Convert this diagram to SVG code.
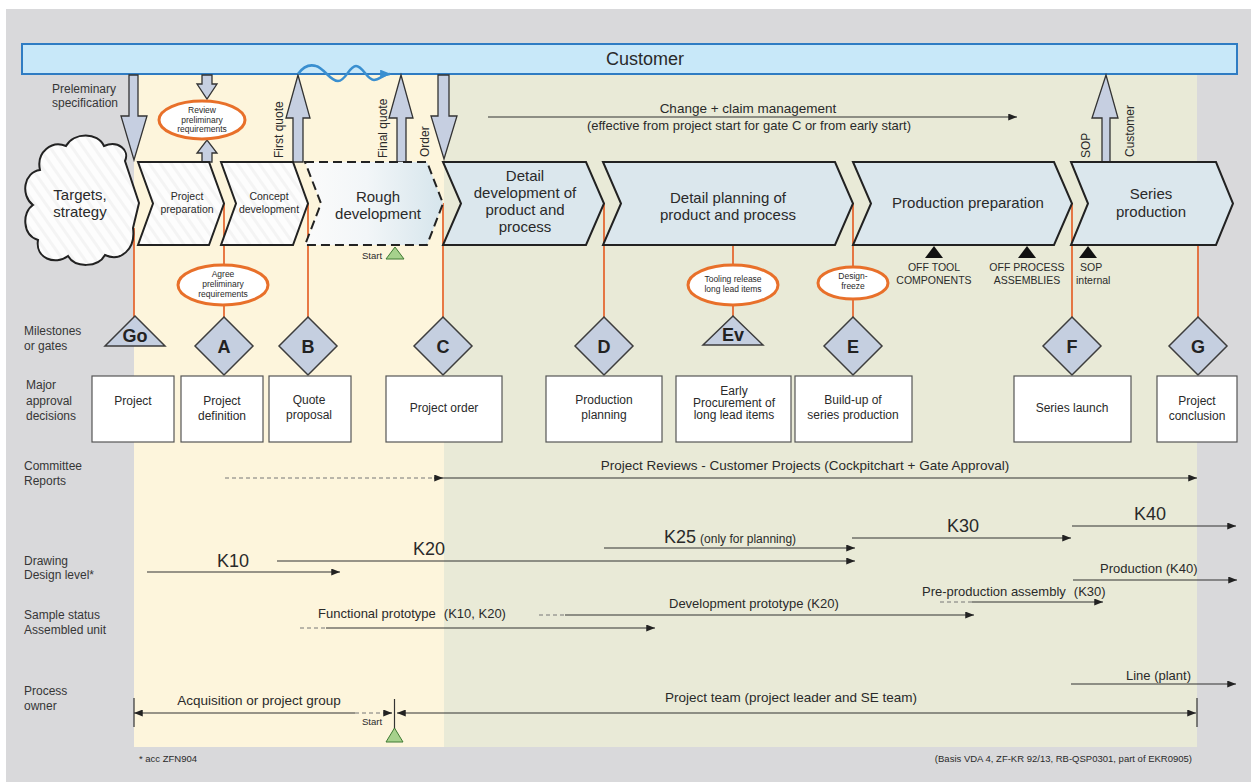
<svg xmlns="http://www.w3.org/2000/svg" width="1251" height="782" viewBox="0 0 1251 782">
  <defs>
    <style>
      .t{font-family:"Liberation Sans",Arial,sans-serif;fill:#2a2a2a}
      .lbl{font-size:12px;fill:#363636}
      .ph{font-size:15px;text-anchor:middle}
      .phs{font-size:10.5px;text-anchor:middle}
      .chev{stroke:#222;stroke-width:2;stroke-linejoin:miter}
      .box{fill:#fff;stroke:#555;stroke-width:1.2}
      .bt{font-size:12px;text-anchor:middle}
      .gate{fill:#c5cfe0;stroke:#3d3d3d;stroke-width:1.5}
      .gl{font-size:18px;font-weight:bold;text-anchor:middle;fill:#222}
      .red{stroke:#e4622a;stroke-width:1.7;fill:none}
      .oval{fill:#fff;stroke:#e8702a;stroke-width:3}
      .ot{font-size:8.5px;text-anchor:middle}
      .blk{fill:#c6cfe1;stroke:#333;stroke-width:1.3;stroke-linejoin:miter}
      .ln{stroke:#333;stroke-width:1.2;fill:none}
      .dsh{stroke:#777;stroke-width:1;stroke-dasharray:4 3;fill:none}
      .mk{fill:#111}
      .k{font-size:18px;text-anchor:middle}
      .m13{font-size:13px}
      .sm{font-size:10.5px}
      .ft{font-size:9.5px}
    </style>
    <pattern id="hatch" width="9" height="9" patternUnits="userSpaceOnUse" patternTransform="rotate(-35)">
      <rect width="9" height="9" fill="#fdfdfd"/>
      <rect width="3" height="9" fill="#f4f4f4"/>
    </pattern>
    <linearGradient id="rough" x1="0" y1="0" x2="1" y2="0">
      <stop offset="0" stop-color="#fbfbfb"/>
      <stop offset="0.45" stop-color="#f2f6f8"/>
      <stop offset="1" stop-color="#d6e5ec"/>
    </linearGradient>
    <marker id="ah" viewBox="0 0 10 8" refX="10" refY="4" markerWidth="9" markerHeight="7" markerUnits="userSpaceOnUse" orient="auto-start-reverse">
      <path d="M0,0 L10,4 L0,8 Z" fill="#222"/>
    </marker>
    <marker id="ahb" viewBox="0 0 10 8" refX="9" refY="4" markerWidth="11" markerHeight="9" markerUnits="userSpaceOnUse" orient="auto">
      <path d="M0,0 L10,4 L0,8 Z" fill="#3a8fd0"/>
    </marker>
  </defs>

  <!-- background panels -->
  <rect x="6" y="9" width="1245" height="773" fill="#d9d9db"/>
  <rect x="134" y="74" width="310" height="673" fill="#fdf5dc"/>
  <rect x="444" y="74" width="753" height="673" fill="#e9ead7"/>

  <!-- row labels -->
  <g id="row-labels" class="t lbl">
    <text x="52" y="93">Preleminary</text>
    <text x="52" y="107">specification</text>
    <text x="24" y="335">Milestones</text>
    <text x="24" y="350">or gates</text>
    <text x="26" y="389">Major</text>
    <text x="26" y="405">approval</text>
    <text x="26" y="420">decisions</text>
    <text x="24" y="470">Committee</text>
    <text x="24" y="485">Reports</text>
    <text x="24" y="565">Drawing</text>
    <text x="24" y="579">Design level*</text>
    <text x="24" y="619">Sample status</text>
    <text x="24" y="634">Assembled unit</text>
    <text x="24" y="695">Process</text>
    <text x="24" y="710">owner</text>
  </g>

  <!-- customer bar -->
  <g id="customer">
    <rect x="22" y="44" width="1215" height="30" fill="#c8e8f9" stroke="#2f7cc3" stroke-width="2"/>
    <text class="t" x="645" y="65" font-size="18" text-anchor="middle">Customer</text>
  </g>

  <!-- gate lines, interface arrows and timelines -->
  <g id="connectors">
    <line class="red" x1="134" y1="228" x2="134" y2="317"/>
    <line class="red" x1="224" y1="203" x2="224" y2="317"/>
    <line class="red" x1="308" y1="203" x2="308" y2="317"/>
    <line class="red" x1="443" y1="203" x2="443" y2="317"/>
    <line class="red" x1="604" y1="203" x2="604" y2="317"/>
    <line class="red" x1="733" y1="245" x2="733" y2="317"/>
    <line class="red" x1="853" y1="203" x2="853" y2="317"/>
    <line class="red" x1="1072" y1="203" x2="1072" y2="317"/>
    <line class="red" x1="1198" y1="245" x2="1198" y2="317"/>

    <!-- customer interface arrows -->
    <path class="blk" d="M129,75 H138 V116 H147 L134,160 L121,116 H129 Z"/>
    <path class="blk" d="M202,75 H212 V84 H217 L207,99 L197,84 H202 Z"/>
    <path class="blk" d="M202,162 H212 V153 H217 L207,140 L197,153 H202 Z"/>
    <path class="blk" d="M293,162 H303 V118 H310 L298,75 L286,118 H293 Z"/>
    <path class="blk" d="M397,162 H406 V118 H413 L401,75 L389,118 H397 Z"/>
    <path class="blk" d="M438,75 H449 V116 H457 L444,159 L431,116 H438 Z"/>
    <path class="blk" d="M1102,162 H1110 V118 H1118 L1106,75 L1092,118 H1102 Z"/>
    <path d="M298,74 C303,67 309,64 316,66 C324,68 330,81 338,81 C346,81 349,66 356,66 C363,66 367,80 374,80 C380,80 383,74 390,74" fill="none" stroke="#3a8fd0" stroke-width="2.5" marker-end="url(#ahb)"/>

    <!-- change management -->
    <line class="ln" x1="488" y1="117" x2="1017" y2="117" marker-end="url(#ah)"/>

    <!-- committee reports -->
    <line class="dsh" x1="225" y1="478" x2="436" y2="478" stroke="#444"/>
    <line class="ln" x1="434" y1="478" x2="443" y2="478" marker-end="url(#ah)"/>
    <line class="ln" x1="443" y1="478" x2="1197" y2="478" marker-end="url(#ah)"/>

    <!-- drawing / design level -->
    <line class="ln" x1="147" y1="572" x2="340" y2="572" marker-end="url(#ah)"/>
    <line class="ln" x1="277" y1="561" x2="855" y2="561" marker-end="url(#ah)"/>
    <line class="ln" x1="604" y1="548" x2="855" y2="548" marker-end="url(#ah)"/>
    <line class="ln" x1="852" y1="538" x2="1071" y2="538" marker-end="url(#ah)"/>
    <line class="ln" x1="1072" y1="526" x2="1236" y2="526" marker-end="url(#ah)"/>

    <!-- sample status -->
    <line class="dsh" x1="300" y1="628" x2="326" y2="628"/>
    <line class="ln" x1="326" y1="628" x2="655" y2="628" marker-end="url(#ah)"/>
    <line class="dsh" x1="539" y1="615" x2="565" y2="615"/>
    <line class="ln" x1="565" y1="615" x2="974" y2="615" marker-end="url(#ah)"/>
    <line class="dsh" x1="940" y1="602" x2="972" y2="602"/>
    <line class="ln" x1="972" y1="602" x2="1103" y2="602" marker-end="url(#ah)"/>
    <line class="ln" x1="1073" y1="580" x2="1237" y2="580" marker-end="url(#ah)"/>

    <!-- process owner -->
    <line class="ln" x1="134" y1="698" x2="134" y2="727"/>
    <line class="ln" x1="134" y1="713" x2="355" y2="713" marker-start="url(#ah)"/>
    <line class="dsh" x1="355" y1="713" x2="386" y2="713" stroke="#444"/>
    <line class="ln" x1="384" y1="713" x2="392" y2="713" marker-end="url(#ah)"/>
    <line class="ln" x1="394.5" y1="699" x2="394.5" y2="731"/>
    <line class="ln" x1="397" y1="713" x2="1196" y2="713" marker-start="url(#ah)" marker-end="url(#ah)"/>
    <line class="ln" x1="1197" y1="698" x2="1197" y2="727"/>
    <line class="ln" x1="1071" y1="684" x2="1236" y2="684" marker-end="url(#ah)"/>
  </g>

  <!-- phases -->
  <g id="targets">
    <path d="M125,161 L139,203 L133,228 C136,250 120,262 105,255 C98,268 75,268 68,256 C55,266 35,258 38,240 C22,235 22,212 33,205 C20,195 24,172 40,170 C36,152 52,140 66,146 C74,132 98,132 104,146 C118,140 130,150 125,161 Z" fill="url(#hatch)" stroke="#222" stroke-width="2"/>
    <text class="t ph" x="80" y="200">Targets,</text>
    <text class="t ph" x="80" y="217">strategy</text>
  </g>
  <g id="phase-project-preparation">
    <path class="chev" d="M138,162 H209 L224,203.5 L209,245 H138 L153,203.5 Z" fill="url(#hatch)"/>
    <text class="t phs" x="187" y="200">Project</text>
    <text class="t phs" x="187" y="213">preparation</text>
  </g>
  <g id="phase-concept-development">
    <path class="chev" d="M221,162 H293 L308,203.5 L293,245 H221 L236,203.5 Z" fill="url(#hatch)"/>
    <text class="t phs" x="269" y="200">Concept</text>
    <text class="t phs" x="269" y="213">development</text>
  </g>
  <g id="phase-rough-development">
    <path class="chev" d="M305,162 H427 L443,203.5 L427,245 H305 L321,203.5 Z" fill="url(#rough)" stroke-dasharray="9 5"/>
    <text class="t ph" x="378" y="202">Rough</text>
    <text class="t ph" x="378" y="219">development</text>
  </g>
  <g id="phase-detail-development">
    <path class="chev" d="M443,162 H586 L604,203.5 L586,245 H443 L461,203.5 Z" fill="#dbe7ed"/>
    <text class="t ph" x="525" y="181">Detail</text>
    <text class="t ph" x="525" y="198">development of</text>
    <text class="t ph" x="525" y="215">product and</text>
    <text class="t ph" x="525" y="232">process</text>
  </g>
  <g id="phase-detail-planning">
    <path class="chev" d="M603,162 H835 L853,203.5 L835,245 H603 L621,203.5 Z" fill="#dbe7ed"/>
    <text class="t ph" x="728" y="203">Detail planning of</text>
    <text class="t ph" x="728" y="220">product and process</text>
  </g>
  <g id="phase-production-preparation">
    <path class="chev" d="M853,162 H1054 L1072,203.5 L1054,245 H853 L871,203.5 Z" fill="#dbe7ed"/>
    <text class="t ph" x="968" y="208">Production preparation</text>
  </g>
  <g id="phase-series-production">
    <path class="chev" d="M1071,162 H1216 L1233,203.5 L1216,245 H1071 L1088,203.5 Z" fill="#dbe7ed"/>
    <text class="t ph" x="1151" y="199">Series</text>
    <text class="t ph" x="1151" y="217">production</text>
  </g>

  <!-- vertical interface labels -->
  <g id="interface-labels" class="t" font-size="12">
    <text transform="translate(283,158) rotate(-90)">First quote</text>
    <text transform="translate(387,158) rotate(-90)">Final quote</text>
    <text transform="translate(429,157) rotate(-90)">Order</text>
    <text transform="translate(1090,158) rotate(-90)">SOP</text>
    <text transform="translate(1134,157) rotate(-90)">Customer</text>
  </g>

  <g id="change-management" class="t">
    <text x="748" y="113" font-size="13.5" text-anchor="middle">Change + claim management</text>
    <text x="749" y="130" font-size="13" text-anchor="middle">(effective from project start for gate C or from early start)</text>
  </g>

  <!-- review activities -->
  <g id="review-preliminary">
    <ellipse class="oval" cx="202" cy="120" rx="43" ry="19"/>
    <text class="t ot" x="202" y="113">Review</text>
    <text class="t ot" x="202" y="123">preliminary</text>
    <text class="t ot" x="202" y="132">requirements</text>
  </g>
  <g id="agree-preliminary">
    <ellipse class="oval" cx="223" cy="285" rx="45" ry="20"/>
    <text class="t ot" x="223" y="277">Agree</text>
    <text class="t ot" x="223" y="287">preliminary</text>
    <text class="t ot" x="223" y="297">requirements</text>
  </g>
  <g id="tooling-release">
    <ellipse class="oval" cx="733" cy="285" rx="45" ry="20"/>
    <text class="t ot" x="733" y="282" font-size="9">Tooling release</text>
    <text class="t ot" x="733" y="292" font-size="9">long lead items</text>
  </g>
  <g id="design-freeze">
    <ellipse class="oval" cx="853" cy="283" rx="35" ry="16"/>
    <text class="t ot" x="853" y="279">Design-</text>
    <text class="t ot" x="853" y="289">freeze</text>
  </g>

  <!-- start markers and production milestones -->
  <g id="start-rough">
    <path d="M395,247 L404,259 H386 Z" fill="#a6d18c" stroke="#3f7a33" stroke-width="1"/>
    <text class="t" x="362" y="259" font-size="9.5">Start</text>
  </g>
  <g id="off-tool">
    <path class="mk" d="M934,246 L943,258 H925 Z"/>
    <text class="t sm" x="934" y="271" text-anchor="middle">OFF TOOL</text>
    <text class="t sm" x="934" y="284" text-anchor="middle">COMPONENTS</text>
  </g>
  <g id="off-process">
    <path class="mk" d="M1027,246 L1036,258 H1018 Z"/>
    <text class="t sm" x="1027" y="271" text-anchor="middle">OFF PROCESS</text>
    <text class="t sm" x="1027" y="284" text-anchor="middle">ASSEMBLIES</text>
  </g>
  <g id="sop-internal">
    <path class="mk" d="M1088,246 L1097,258 H1079 Z"/>
    <text class="t sm" x="1080" y="271">SOP</text>
    <text class="t sm" x="1076" y="284">internal</text>
  </g>

  <!-- gates -->
  <g id="gate-go">
    <path class="gate" d="M135,316 L165,346 H105 Z"/>
    <text class="t gl" x="135" y="342">Go</text>
  </g>
  <g id="gate-a"><path class="gate" d="M224,317 L253,346 L224,375 L195,346 Z"/><text class="t gl" x="224" y="353">A</text></g>
  <g id="gate-b"><path class="gate" d="M308,317 L337,346 L308,375 L279,346 Z"/><text class="t gl" x="308" y="353">B</text></g>
  <g id="gate-c"><path class="gate" d="M443,317 L472,346 L443,375 L414,346 Z"/><text class="t gl" x="443" y="353">C</text></g>
  <g id="gate-d"><path class="gate" d="M604,317 L633,346 L604,375 L575,346 Z"/><text class="t gl" x="604" y="353">D</text></g>
  <g id="gate-ev">
    <path class="gate" d="M733,316 L763,345 H703 Z"/>
    <text class="t gl" x="733" y="341">Ev</text>
  </g>
  <g id="gate-e"><path class="gate" d="M853,317 L882,346 L853,375 L824,346 Z"/><text class="t gl" x="853" y="353">E</text></g>
  <g id="gate-f"><path class="gate" d="M1072,317 L1101,346 L1072,375 L1043,346 Z"/><text class="t gl" x="1072" y="353">F</text></g>
  <g id="gate-g"><path class="gate" d="M1198,317 L1227,346 L1198,375 L1169,346 Z"/><text class="t gl" x="1198" y="353">G</text></g>

  <!-- approval decisions -->
  <g id="dec-project"><rect class="box" x="92" y="376" width="82" height="66"/><text class="t bt" x="133" y="405">Project</text></g>
  <g id="dec-project-definition"><rect class="box" x="181" y="376" width="82" height="66"/><text class="t bt" x="222" y="405">Project</text><text class="t bt" x="222" y="420">definition</text></g>
  <g id="dec-quote-proposal"><rect class="box" x="269" y="376" width="82" height="66"/><text class="t bt" x="309" y="404">Quote</text><text class="t bt" x="309" y="419">proposal</text></g>
  <g id="dec-project-order"><rect class="box" x="386" y="376" width="116" height="66"/><text class="t bt" x="444" y="412">Project order</text></g>
  <g id="dec-production-planning"><rect class="box" x="546" y="376" width="116" height="66"/><text class="t bt" x="604" y="404">Production</text><text class="t bt" x="604" y="419">planning</text></g>
  <g id="dec-early-procurement"><rect class="box" x="676" y="376" width="115" height="66"/><text class="t bt" x="734" y="395" font-size="11">Early</text><text class="t bt" x="734" y="407" font-size="11">Procurement of</text><text class="t bt" x="734" y="419" font-size="11">long lead items</text></g>
  <g id="dec-build-up"><rect class="box" x="795" y="376" width="117" height="66"/><text class="t bt" x="853" y="404">Build-up of</text><text class="t bt" x="853" y="419">series production</text></g>
  <g id="dec-series-launch"><rect class="box" x="1014" y="376" width="117" height="66"/><text class="t bt" x="1072" y="412">Series launch</text></g>
  <g id="dec-project-conclusion"><rect class="box" x="1157" y="376" width="80" height="66"/><text class="t bt" x="1197" y="405">Project</text><text class="t bt" x="1197" y="420">conclusion</text></g>

  <!-- timeline labels -->
  <g id="committee" class="t">
    <text x="805" y="470" font-size="13.5" text-anchor="middle">Project Reviews - Customer Projects (Cockpitchart + Gate Approval)</text>
  </g>
  <g id="design-levels" class="t">
    <text class="k" x="233" y="567">K10</text>
    <text class="k" x="429" y="555">K20</text>
    <text x="664" y="543" font-size="18">K25<tspan font-size="12" dx="4">(only for planning)</tspan></text>
    <text class="k" x="963" y="532">K30</text>
    <text class="k" x="1150" y="520">K40</text>
  </g>
  <g id="sample-status" class="t m13">
    <text x="318" y="618">Functional prototype<tspan dx="8">(K10, K20)</tspan></text>
    <text x="669" y="608">Development prototype (K20)</text>
    <text x="922" y="596">Pre-production assembly<tspan dx="8">(K30)</tspan></text>
    <text x="1100" y="573">Production (K40)</text>
  </g>
  <g id="process-owner" class="t">
    <text x="259" y="705" font-size="13.5" text-anchor="middle">Acquisition or project group</text>
    <text x="372" y="725" font-size="9.5" text-anchor="middle">Start</text>
    <path d="M394.5,728 L403,742 H386 Z" fill="#a6d18c" stroke="#3f7a33" stroke-width="1"/>
    <text x="791" y="702" font-size="13.5" text-anchor="middle">Project team (project leader and SE team)</text>
    <text x="1191" y="680" font-size="13" text-anchor="end">Line (plant)</text>
  </g>

  <g id="footer" class="t ft">
    <text x="139" y="762">* acc ZFN904</text>
    <text x="1192" y="762" text-anchor="end">(Basis VDA 4, ZF-KR 92/13, RB-QSP0301, part of EKR0905)</text>
  </g>
</svg>
